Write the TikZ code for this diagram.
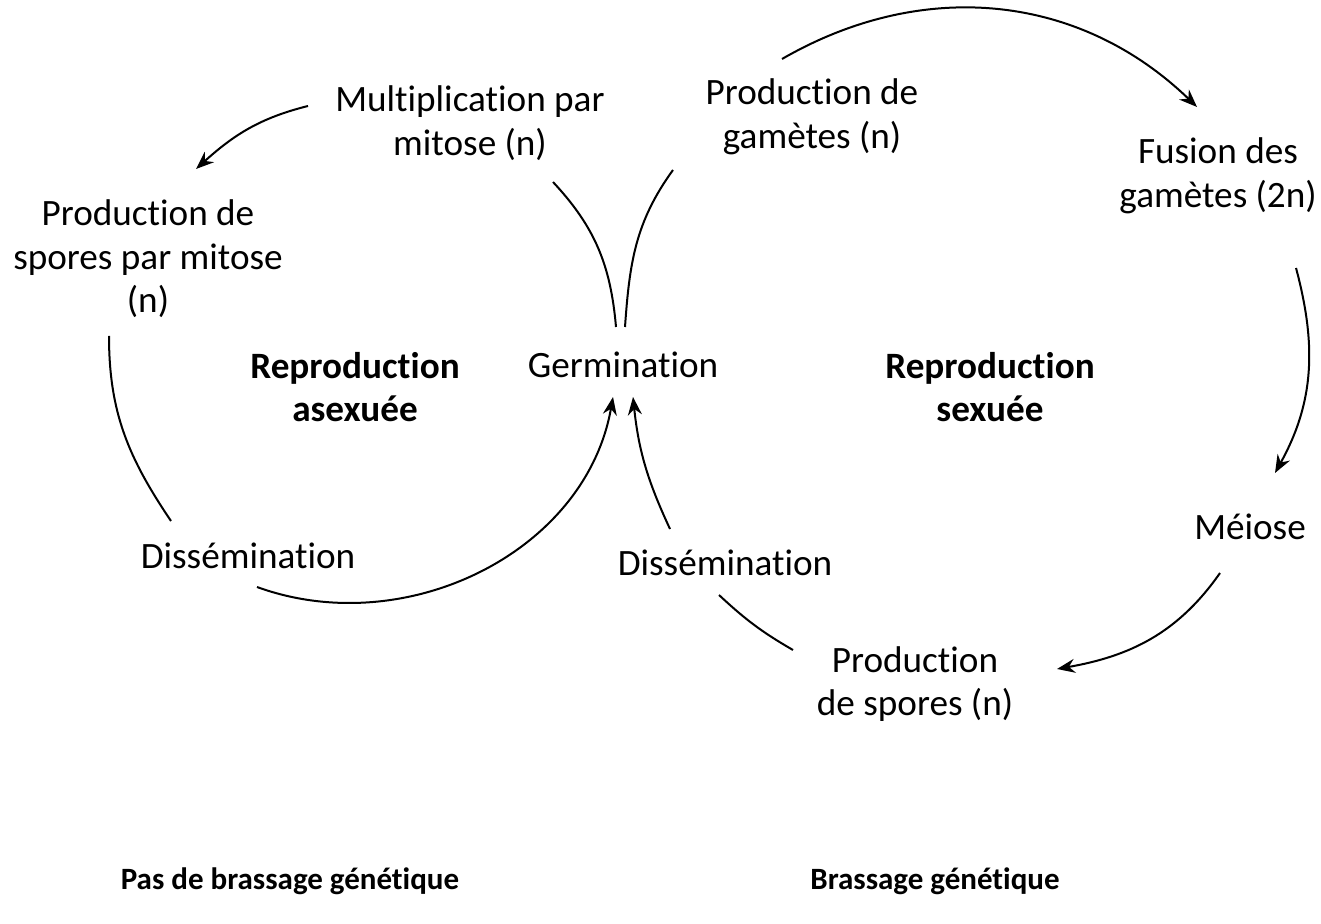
\documentclass[tikz,border=0pt]{standalone}
\usepackage{fontspec}
\setmainfont{Carlito}[Ligatures=CommonOff]
\usetikzlibrary{arrows.meta}
\begin{document}
\begin{tikzpicture}[x=0.5pt,y=0.5pt,
  lbl/.style={align=center, inner sep=0pt, font=\fontsize{18.6}{21.75}\selectfont},
  blbl/.style={align=center, inner sep=0pt, font=\fontsize{18.6}{21.75}\selectfont\bfseries},
  foot/.style={align=center, inner sep=0pt, font=\fontsize{15.5}{18}\selectfont\bfseries},
  arcline/.style={line width=1pt},
  arrline/.style={line width=1pt, -{Stealth[length=9pt,width=7pt,inset=3pt]}}]
\useasboundingbox (0,0) rectangle (1321,-924);
% labels
\node[lbl] (mult) at (470,-123) {Multiplication par\\mitose (n)};
\node[lbl] (gam) at (812,-117) {Production de\\gamètes (n)};
\node[lbl] (fus) at (1218,-176) {Fusion des\\gamètes (2n)};
\node[lbl] (sporm) at (148,-259) {Production de\\spores par mitose\\(n)};
\node[blbl] (rasex) at (355,-387) {Reproduction\\asexuée};
\node[lbl] (germ) at (623,-365) {Germination};
\node[blbl] (rsex) at (990,-387) {Reproduction\\sexuée};
\node[lbl] (meiose) at (1250,-527) {Méiose};
\node[lbl] (dissL) at (248,-556) {Dissémination};
\node[lbl] (dissR) at (725,-563) {Dissémination};
\node[lbl] (prodsp) at (915,-684) {Production\\de spores (n)};
\node[foot] (pasbr) at (290,-881) {Pas de brassage génétique};
\node[foot] (brass) at (935,-881) {Brassage génétique};
% connector end points
\coordinate (a1s) at (308,-106);
\coordinate (a1e) at (196,-169);
\coordinate (a2s) at (616,-327);
\coordinate (a2e) at (553,-182);
\coordinate (a3s) at (625,-327);
\coordinate (a3e) at (673,-170);
\coordinate (a4s) at (782,-59);
\coordinate (a4e) at (1197,-107);
\coordinate (a5s) at (1296,-268);
\coordinate (a5e) at (1275,-473);
\coordinate (a6s) at (1220,-573);
\coordinate (a6e) at (1057,-669);
\coordinate (a7s) at (793,-650);
\coordinate (a7e) at (719,-595);
\coordinate (a8s) at (670,-529);
\coordinate (a8e) at (633,-397);
\coordinate (a9s) at (109,-336);
\coordinate (a9e) at (171,-521);
\coordinate (a10s) at (257,-587);
\coordinate (a10e) at (613,-397);
% connectors
\draw[arrline] (a1s) to[out=194,in=42] (a1e);
\draw[arcline] (a2s) to[out=95,in=313] (a2e);
\draw[arcline] (a3s) to[out=86,in=234] (a3e);
\draw[arrline] (a4s) to[out=30,in=136] (a4e);
\draw[arrline] (a5s) to[out=-75,in=61] (a5e);
\draw[arrline] (a6s) to[out=235,in=10] (a6e);
\draw[arcline] (a7s) to[out=150,in=317] (a7e);
\draw[arrline] (a8s) to[out=115,in=276] (a8e);
\draw[arcline] (a9s) to[out=270,in=124] (a9e);
\draw[arrline] (a10s) to[out=340,in=260] (a10e);
\end{tikzpicture}
\end{document}
